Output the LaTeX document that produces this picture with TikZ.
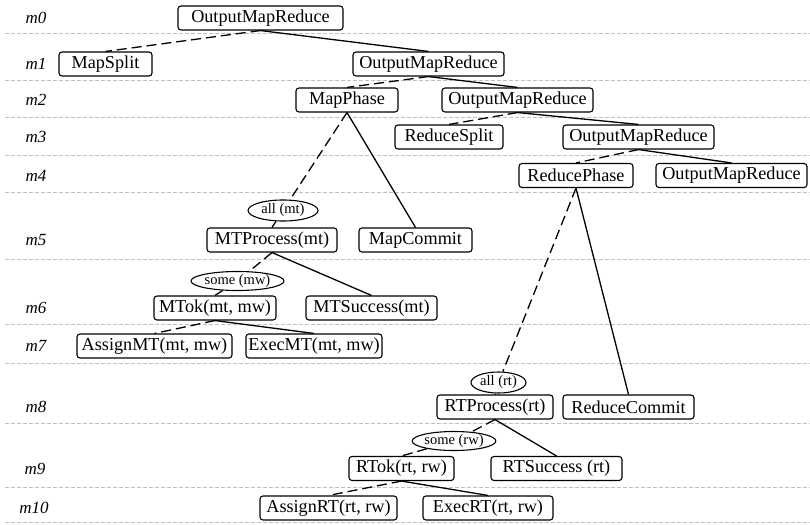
\documentclass[tikz,border=0pt]{standalone}
\usepackage{fontspec}
\setmainfont{Liberation Serif}
\usetikzlibrary{shapes.geometric}
\begin{document}
\begin{tikzpicture}[x=1pt,y=-1pt,
  box/.style={draw, rounded corners=3pt, line width=1.1pt, minimum height=24pt, inner xsep=1pt, inner ysep=0pt, font=\fontsize{18.2}{20}\selectfont, fill=white},
  oval/.style={draw, ellipse, line width=1.1pt, inner sep=0pt, font=\fontsize{14.5}{16}\selectfont, fill=white},
  lvl/.style={font=\fontsize{17}{20}\selectfont\itshape},
  sep/.style={draw=gray!50, line width=0.9pt, dash pattern=on 4pt off 2pt},
  solidedge/.style={line width=1.3pt},
  dashedge/.style={line width=1.3pt, dash pattern=on 10pt off 5pt}]
\useasboundingbox (0,0) rectangle (810,524);
% separators
\foreach \yy in {33,80,117,155,192,259,324,363,423,487,522}
  \draw[sep] (5,\yy) -- (810,\yy);
% level labels
\node[lvl] (m0) at (36,18) {m0};
\node[lvl] (m1) at (36,64) {m1};
\node[lvl] (m2) at (36,100) {m2};
\node[lvl] (m3) at (36,137) {m3};
\node[lvl] (m4) at (36,175.5) {m4};
\node[lvl] (m5) at (36,240) {m5};
\node[lvl] (m6) at (36,308) {m6};
\node[lvl] (m7) at (36,346) {m7};
\node[lvl] (m8) at (36,407) {m8};
\node[lvl] (m9) at (35,468.5) {m9};
\node[lvl] (m10) at (34,508) {m10};
% nodes
\node[box, minimum width=165pt] (omr0) at (260.5,18) {OutputMapReduce};
\node[box, minimum width=93pt] (mapsplit) at (105.5,64) {MapSplit};
\node[box, minimum width=151pt] (omr1) at (428.5,64) {OutputMapReduce};
\node[box, minimum width=102pt] (mapphase) at (347,100) {MapPhase};
\node[box, minimum width=151pt] (omr2) at (517.5,100) {OutputMapReduce};
\node[box, minimum width=108pt] (reducesplit) at (449,137) {ReduceSplit};
\node[box, minimum width=151pt] (omr3) at (638.5,137) {OutputMapReduce};
\node[box, minimum width=114pt] (reducephase) at (576,175.5) {ReducePhase};
\node[box, minimum width=151pt] (omr4) at (731.5,175.5) {OutputMapReduce};
\node[oval, minimum width=70pt, minimum height=21pt] (allmt) at (283,210.5) {all (mt)};
\node[box, minimum width=130pt] (mtprocess) at (272,240) {MTProcess(mt)};
\node[box, minimum width=113pt] (mapcommit) at (415.5,240) {MapCommit};
\node[oval, minimum width=93pt, minimum height=19pt] (somemw) at (237.5,281) {some (mw)};
\node[box, minimum width=122pt] (mtok) at (215,308) {MTok(mt, mw)};
\node[box, minimum width=131pt] (mtsuccess) at (371.5,308) {MTSuccess(mt)};
\node[box, minimum width=155pt] (assignmt) at (154.5,346) {AssignMT(mt, mw)};
\node[box, minimum width=136pt] (execmt) at (314,346) {ExecMT(mt, mw)};
\node[oval, minimum width=55pt, minimum height=21pt] (allrt) at (498.5,382.5) {all (rt)};
\node[box, minimum width=116pt] (rtprocess) at (495,407) {RTProcess(rt)};
\node[box, minimum width=131pt] (reducecommit) at (628.5,407) {ReduceCommit};
\node[oval, minimum width=78pt, minimum height=19pt] (somerw) at (454,441) {some (rw)};
\node[box, minimum width=105pt] (rtok) at (401.5,468.5) {RTok(rt, rw)};
\node[box, minimum width=131pt] (rtsuccess) at (556.5,468.5) {RTSuccess (rt)};
\node[box, minimum width=137pt] (assignrt) at (328.5,508) {AssignRT(rt, rw)};
\node[box, minimum width=130pt] (execrt) at (488,508) {ExecRT(rt, rw)};
% edges
\draw[dashedge] (omr0.south) -- (mapsplit.north);
\draw[solidedge] (omr0.south) -- (omr1.north);
\draw[dashedge] (omr1.south) -- (mapphase.north);
\draw[solidedge] (omr1.south) -- (omr2.north);
\draw[dashedge] (omr2.south) -- (reducesplit.north);
\draw[solidedge] (omr2.south) -- (omr3.north);
\draw[dashedge] (omr3.south) -- (reducephase.north);
\draw[solidedge] (omr3.south) -- (omr4.north);
\draw[dashedge] (mapphase.south) -- (allmt);
\draw[dashedge] (allmt) -- (mtprocess.north);
\draw[solidedge] (mapphase.south) -- (mapcommit.north);
\draw[dashedge] (mtprocess.south) -- (somemw);
\draw[dashedge] (somemw) -- (mtok.north);
\draw[solidedge] (mtprocess.south) -- (mtsuccess.north);
\draw[dashedge] (mtok.south) -- (assignmt.north);
\draw[solidedge] (mtok.south) -- (execmt.north);
\draw[dashedge] (reducephase.south) -- (allrt);
\draw[dashedge] (allrt) -- (rtprocess.north);
\draw[solidedge] (reducephase.south) -- (reducecommit.north);
\draw[dashedge] (rtprocess.south) -- (somerw);
\draw[dashedge] (somerw) -- (rtok.north);
\draw[solidedge] (rtprocess.south) -- (rtsuccess.north);
\draw[dashedge] (rtok.south) -- (assignrt.north);
\draw[solidedge] (rtok.south) -- (execrt.north);
\end{tikzpicture}
\end{document}
